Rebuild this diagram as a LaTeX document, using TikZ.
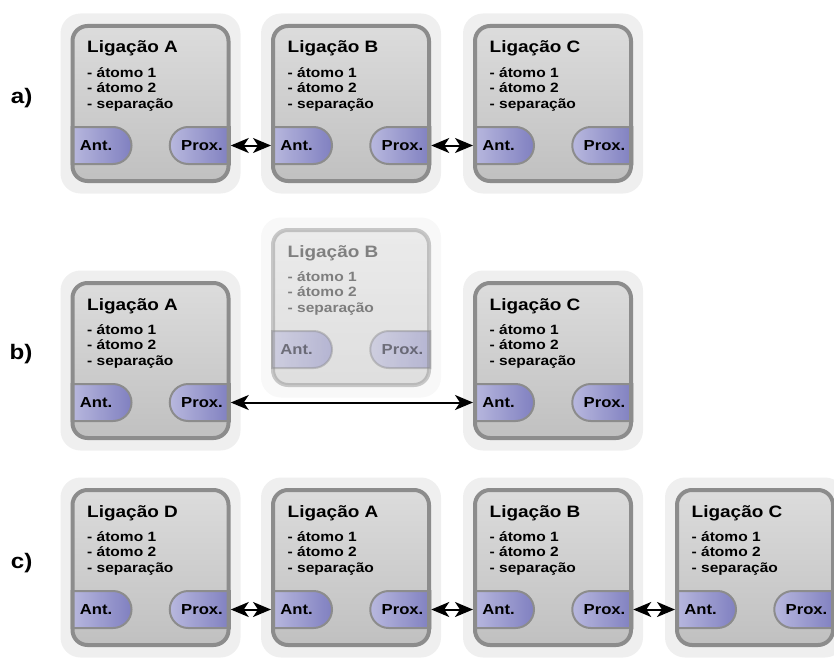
\documentclass[tikz,border=0pt]{standalone}
\usepackage{fontspec}
\setmainfont{Liberation Sans}[FakeStretch=1.15]
\usepackage{tikz}
\usetikzlibrary{arrows.meta, positioning, shapes.misc}

\definecolor{shadowgray}{HTML}{EFEFEF}
\definecolor{boxtop}{HTML}{DCDCDC}
\definecolor{boxbottom}{HTML}{C0C0C0}
\definecolor{bordergray}{HTML}{8C8C8C}
\definecolor{pillleft}{HTML}{B8B8DE}
\definecolor{pillright}{HTML}{8080C0}

\tikzset{
  shadowbox/.style={
    rectangle,
    rounded corners=20pt,
    fill=shadowgray,
    minimum width=180pt,
    minimum height=180pt,
    inner sep=0pt
  },
  linkbox/.style={
    rectangle,
    rounded corners=15pt,
    top color=boxtop,
    bottom color=boxbottom,
    minimum width=156pt,
    minimum height=155pt,
    inner sep=0pt
  },
  boxborder/.style={
    rectangle,
    rounded corners=15pt,
    draw=bordergray,
    line width=4pt,
    minimum width=156pt,
    minimum height=155pt,
    inner sep=0pt
  },
  antpill/.style={
    rounded rectangle,
    rounded rectangle west arc=none,
    draw=bordergray,
    line width=2pt,
    left color=pillleft,
    right color=pillright,
    minimum width=60pt,
    minimum height=37pt,
    inner sep=0pt
  },
  proxpill/.style={
    rounded rectangle,
    rounded rectangle east arc=none,
    draw=bordergray,
    line width=2pt,
    left color=pillleft,
    right color=pillright,
    minimum width=60pt,
    minimum height=37pt,
    inner sep=0pt
  },
  titletext/.style={
    font=\fontsize{16.5}{18}\selectfont\bfseries,
    inner sep=0pt,
    anchor=base west
  },
  itemtext/.style={
    font=\fontsize{13.5}{15.5}\selectfont\bfseries,
    align=left,
    inner sep=0pt,
    anchor=base west
  },
  pilltext/.style={
    font=\fontsize{14.5}{16}\selectfont\bfseries,
    inner sep=0pt
  },
  rowlabel/.style={
    font=\fontsize{21}{21}\selectfont\bfseries,
    inner sep=0pt
  },
  link/.style={
    {Stealth[length=18pt, width=15pt, inset=5pt]}-{Stealth[length=18pt, width=15pt, inset=5pt]},
    line width=2pt
  },
  ligacao/.pic={
    \node[shadowbox] (-shadow) at (0,0) {};
    \node[linkbox] (-box) at (0,0) {};
    \node[antpill] (-ant) at (-49,42) {};
    \node[proxpill] (-prox) at (49.25,42) {};
    \node[boxborder] (-border) at (0,0) {};
    \node[titletext] (-title) at (-63.5,-50.5) {Ligação #1};
    \node[itemtext] (-items) at (-63.5,4.5) {- átomo 1\\- átomo 2\\- separação};
    \node[pilltext] (-anttext) at (-54.5,42) {Ant.};
    \node[pilltext] (-proxtext) at (51.5,42) {Prox.};
  }
}

\begin{document}
\begin{tikzpicture}[x=1pt, y=-1pt]
  \useasboundingbox (0,0) rectangle (834,666);

  % --- a) ---
  \pic (aA) at (150.5,103.5) {ligacao=A};
  \pic (aB) at (351,103.5) {ligacao=B};
  \pic (aC) at (553,103.5) {ligacao=C};
  \node (a_label) [rowlabel, left=38pt of aA-border.west, yshift=5.5pt] {a)};

  \draw[link] (aA-prox.east) -- (aB-ant.west);
  \draw[link] (aB-prox.east) -- (aC-ant.west);

  % --- b) ---
  \pic[opacity=0.45] (bB) at (351,307.5) {ligacao=B};
  \pic (bA) at (150.5,360.5) {ligacao=A};
  \pic (bC) at (553,360.5) {ligacao=C};
  \node (b_label) [rowlabel, left=38pt of bA-border.west, yshift=6.5pt] {b)};

  \draw[link] (bA-prox.east) -- (bC-ant.west);

  % --- c) ---
  \pic (cD) at (150.5,567.5) {ligacao=D};
  \pic (cA) at (351,567.5) {ligacao=A};
  \pic (cB) at (553,567.5) {ligacao=B};
  \pic (cC) at (755,567.5) {ligacao=C};
  \node (c_label) [rowlabel, left=38pt of cD-border.west, yshift=4pt] {c)};

  \draw[link] (cD-prox.east) -- (cA-ant.west);
  \draw[link] (cA-prox.east) -- (cB-ant.west);
  \draw[link] (cB-prox.east) -- (cC-ant.west);

\end{tikzpicture}
\end{document}
